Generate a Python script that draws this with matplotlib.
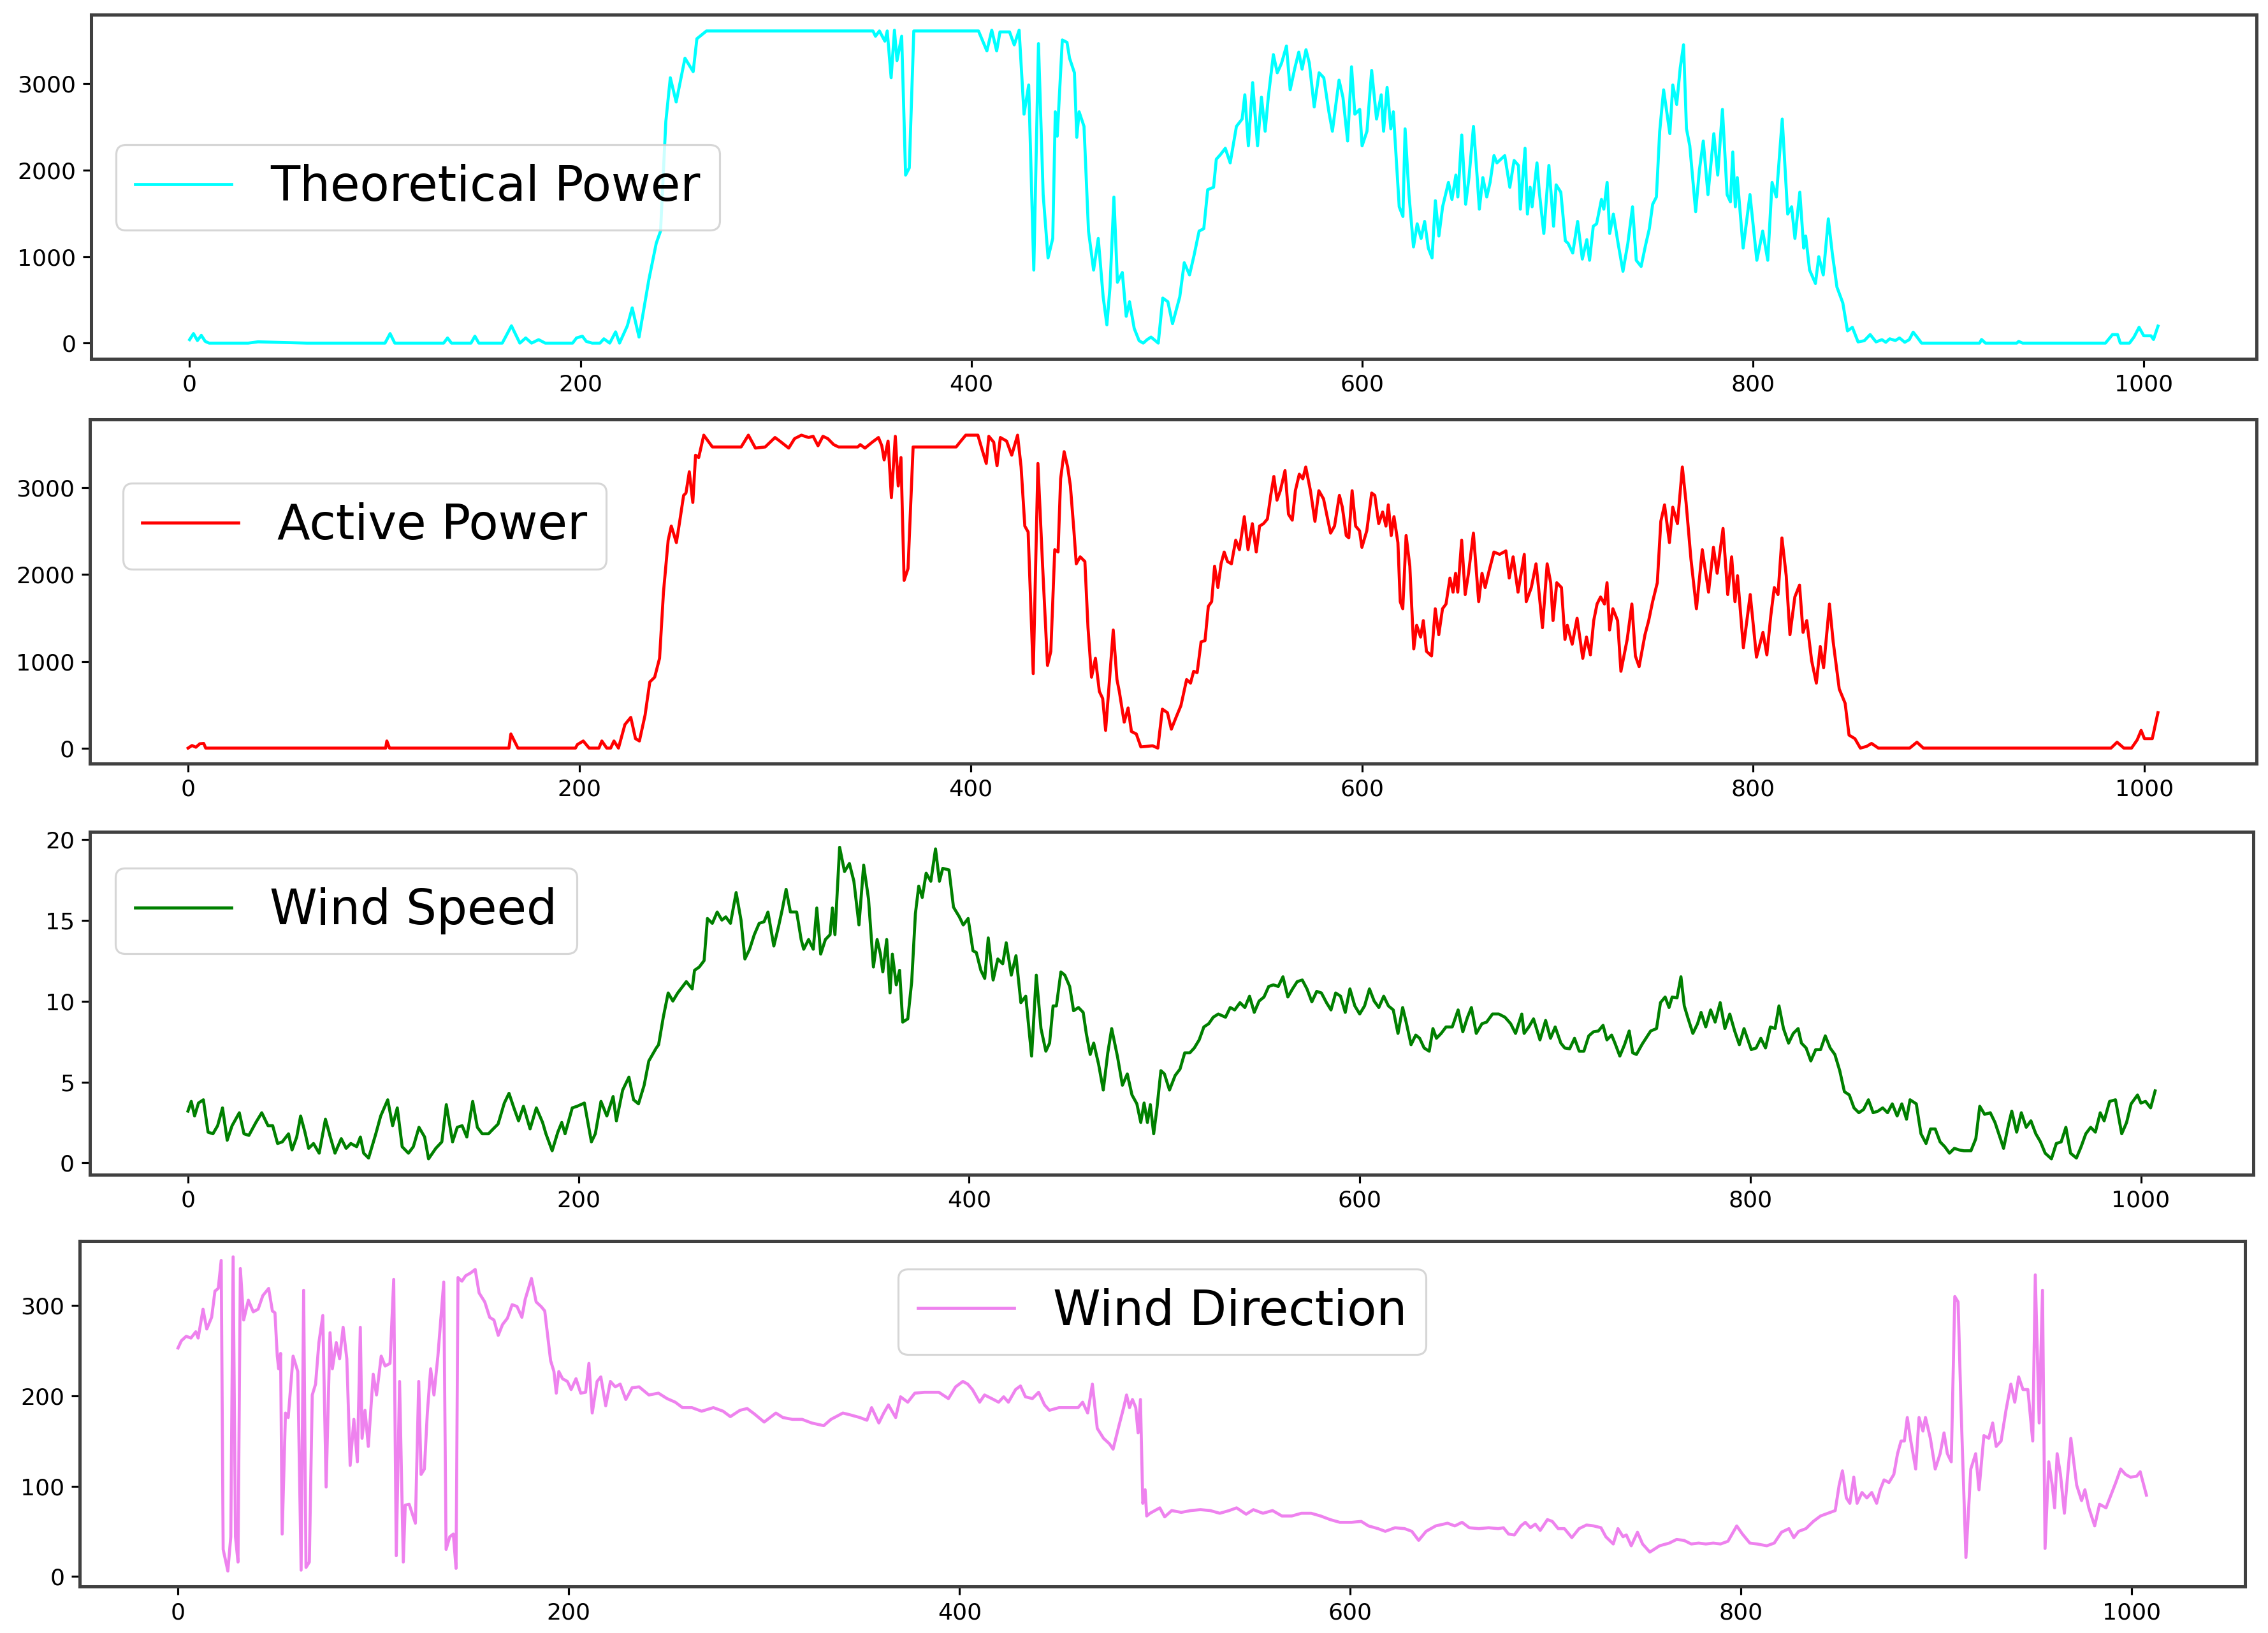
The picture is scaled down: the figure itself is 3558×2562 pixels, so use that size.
import matplotlib
matplotlib.use('Agg')
import matplotlib.pyplot as plt

# (time index, value) points
theoretical_power = [
    (0, 40), (2, 110), (4, 30), (6, 90), (8, 20), (10, 0), (30, 0), (35, 15), (60, 0), (100, 0),
    (102.6, 110), (105, 0), (130, 0), (132, 60), (134, 0), (144, 0), (146, 80), (148, 0), (160, 0),
    (164.7, 200), (169, 0), (172, 60), (175, 0), (178.6, 40), (182, 0), (196, 0), (198, 60), (201, 80),
    (203, 20), (206, 0), (210, 0), (212, 50), (215, 0), (218, 130), (220, 0), (224, 200), (226.5, 408),
    (230, 70), (235, 732), (238.8, 1155), (241, 1296), (243.7, 2563), (246, 3070), (249, 2789),
    (253.5, 3296), (257.7, 3140), (259.6, 3521), (264.5, 3611), (349.7, 3611), (351, 3550), (353, 3611),
    (355.8, 3493), (357, 3611), (359, 3070), (360.7, 3620), (362, 3268), (364.4, 3550), (366.4, 1944),
    (368.3, 2028), (370.6, 3611), (403.7, 3611), (408, 3380), (410.5, 3620), (413, 3380), (414.7, 3600),
    (419.6, 3600), (422, 3450), (424.5, 3620), (427, 2648), (429.4, 2986), (432, 845), (434.4, 3465),
    (436.8, 1718), (439.3, 986), (441.7, 1211), (443, 2676), (444, 2394), (446.6, 3507), (449, 3479),
    (450.3, 3296), (452.8, 3127), (454, 2380), (455.2, 2676), (457.7, 2507), (460, 1296), (462.6, 845),
    (465, 1211), (467.5, 535), (469.4, 211), (471, 648), (473, 1690), (474.8, 704), (477.3, 817),
    (479.3, 310), (481, 479), (483.4, 169), (485.9, 28), (488, 0), (490, 40), (492, 70), (495.7, 0),
    (498, 521), (500.6, 479), (503, 225), (506.7, 535), (509, 930), (511.7, 789), (514, 1014),
    (516.6, 1296), (519, 1324), (521, 1775), (524, 1803), (525.4, 2127), (527.6, 2183), (530, 2254),
    (532.5, 2085), (535.7, 2507), (538.6, 2592), (540, 2873), (541.8, 2282), (544, 3014), (546.5, 2282),
    (548.5, 2845), (550.4, 2451), (552, 2845), (554.6, 3338), (556.6, 3127), (558.8, 3239), (561.3, 3437),
    (563.2, 2930), (565.6, 3183), (567.6, 3366), (569.3, 3169), (571.3, 3394), (573, 3239), (575.5, 2732),
    (578, 3127), (580.4, 3070), (583, 2676), (584.8, 2451), (588.2, 3042), (590.2, 2845), (592.6, 2338),
    (594.6, 3197), (596.3, 2648), (598.8, 2704), (600, 2282), (602.5, 2451), (604.9, 3155), (607.4, 2592),
    (609.8, 2873), (611, 2451), (612.8, 2958), (614.7, 2479), (616, 2676), (617, 2310), (619, 1577),
    (620.9, 1465), (622, 2479), (624, 1718), (626.3, 1113), (628.2, 1380), (630.2, 1211), (632, 1408),
    (633.9, 1099), (635.8, 986), (637.5, 1648), (639.3, 1239), (641.2, 1577), (644.2, 1859), (646, 1662),
    (648, 1944), (649, 1690), (651, 2408), (653, 1606), (654.7, 1915), (657, 2507), (659, 1887), (660, 1549),
    (661.8, 1915), (663.8, 1690), (665.5, 1859), (667.5, 2169), (669, 2085), (673, 2169), (675.6, 1803),
    (677.8, 2113), (680, 2056), (681, 1549), (683.4, 2254), (684.6, 1493), (686, 1803), (687, 1577),
    (689.5, 2085), (690.7, 1746), (693, 1268), (695.6, 2056), (698, 1352), (699.3, 1831), (701.7, 1746),
    (704, 1183), (705.4, 1155), (707.8, 1042), (710.3, 1408), (712.7, 972), (715, 1197), (716.4, 958),
    (718.3, 1352), (720, 1380), (722.5, 1662), (723.7, 1549), (725.4, 1859), (726.7, 1268), (728.6, 1493),
    (731, 1155), (733.5, 831), (736, 1155), (738.4, 1577), (740.3, 958), (742.8, 887), (745, 1127),
    (747, 1324), (748.7, 1606), (750.6, 1690), (752.3, 2451), (754.3, 2930), (757.5, 2423), (759, 2986),
    (761, 2761), (762.8, 3183), (764.5, 3451), (766, 2479), (767.7, 2282), (770.7, 1521), (772.6, 2000),
    (774.6, 2338), (777, 1718), (780, 2423), (782, 1944), (784.4, 2704), (786.8, 1718), (788.5, 1634),
    (789.7, 2211), (791, 1577), (792, 1915), (795, 1099), (798.5, 1718), (802, 958), (805, 1296),
    (807.6, 958), (809.8, 1859), (812, 1690), (815, 2592), (817.8, 1493), (819.8, 1577), (821.5, 1211),
    (824, 1746), (826, 1099), (827, 1239), (829, 845), (832, 690), (833.7, 1000), (836, 789), (838.6, 1437),
    (840.6, 1042), (843, 648), (846, 465), (848.4, 141), (850.9, 183), (853.8, 14), (857, 28), (860, 99),
    (863, 14), (866, 40), (868, 10), (870, 50), (872.9, 30), (875, 60), (877.7, 10), (880, 40), (882, 127),
    (884, 70), (886.3, 0), (916, 0), (917, 42), (919, 0), (935, 0), (936, 20), (938, 0), (980.4, 0),
    (984, 99), (986.6, 99), (988, 0), (992.7, 0), (995, 70), (997.6, 183), (1000, 85), (1003.7, 85),
    (1005, 42), (1007.3, 197),
]

active_power = [
    (0, 0), (2, 30), (4, 10), (6, 50), (8, 54), (9, 0), (101, 0), (101.6, 82), (103, 0), (164, 0),
    (165, 163), (168.6, 0), (198, 0), (199, 41), (202, 82), (205, 0), (210, 0), (211.5, 82), (214, 0),
    (216, 0), (217.7, 82), (220, 0), (223.3, 272), (226.3, 354), (228.7, 109), (230.7, 82), (233.6, 381),
    (236, 762), (238.5, 817), (241, 1035), (243, 1797), (245.4, 2396), (247, 2559), (249.6, 2369),
    (251.3, 2614), (253.3, 2913), (254.5, 2940), (256.2, 3185), (258, 2831), (259.4, 3376), (261, 3349),
    (263.6, 3607), (268, 3471), (282.7, 3471), (286.4, 3607), (290, 3458), (295, 3471), (300, 3580),
    (302.4, 3540), (307, 3458), (310, 3567), (313.5, 3607), (317.2, 3580), (319.5, 3594), (322, 3485),
    (324.5, 3594), (327, 3567), (330, 3498), (332.5, 3471), (342.3, 3471), (343.6, 3498), (346, 3458),
    (349.7, 3526), (352.9, 3580), (354.6, 3485), (355.8, 3322), (357.8, 3539), (359.5, 2886), (361.5, 3594),
    (363, 3022), (364.4, 3349), (366, 1933), (368, 2069), (370.6, 3471), (392.6, 3471), (395, 3539),
    (397.5, 3607), (403.7, 3607), (406, 3430), (408, 3281), (409.3, 3594), (411.8, 3526), (413.5, 3254),
    (415.2, 3580), (418.4, 3539), (421, 3376), (424, 3607), (425.8, 3240), (427.7, 2559), (429.4, 2491),
    (432, 858), (434.4, 3281), (436.8, 2097), (439.3, 953), (441, 1116), (443, 2287), (444.7, 2260),
    (446, 3104), (447.8, 3417), (449.6, 3240), (451, 3022), (452.8, 2505), (454, 2124), (456, 2205),
    (458.4, 2151), (460, 1388), (461.8, 817), (463.8, 1035), (465.8, 653), (467.5, 572), (469, 204),
    (471, 790), (472.9, 1361), (474.8, 790), (476, 653), (478.5, 299), (480.5, 463), (482.2, 191),
    (484.7, 163), (487, 14), (490, 20), (493, 27), (495.7, 0), (498, 449), (500.6, 408), (502.6, 218),
    (505, 354), (507.5, 490), (510.4, 790), (512.4, 749), (514, 885), (515.8, 871), (517.8, 1225),
    (519.8, 1239), (521.5, 1634), (523.2, 1688), (524.7, 2097), (526.4, 1851), (528, 2124), (529.6, 2260),
    (531.3, 2151), (533.3, 2124), (535.5, 2396), (537.4, 2287), (539.9, 2668), (541.8, 2287), (544, 2587),
    (546, 2260), (547.7, 2559), (549.7, 2587), (551.7, 2641), (553.4, 2913), (555, 3131), (556.6, 2858),
    (558.3, 2967), (560.7, 3199), (562.5, 2695), (564.4, 2627), (566, 2967), (568, 3158), (569.8, 3104),
    (571.3, 3240), (573.7, 2967), (576, 2614), (578, 2967), (580.4, 2872), (582, 2695), (584, 2478),
    (586, 2559), (588.5, 2913), (590, 2777), (592, 2450), (593.3, 2423), (595, 2967), (596.8, 2559),
    (598.8, 2505), (600, 2314), (602.5, 2505), (605, 2940), (606.6, 2913), (608.6, 2587), (610.6, 2722),
    (612.3, 2559), (613.5, 2804), (615, 2450), (616.4, 2668), (618.4, 2369), (619.6, 1688), (620.9, 1606),
    (622.6, 2450), (624.5, 2097), (626.5, 1143), (628, 1416), (630, 1280), (631.4, 1470), (633, 1116),
    (635.6, 1062), (637.5, 1606), (639.3, 1307), (641.2, 1606), (643, 1661), (645, 1960), (646.6, 1797),
    (647.9, 2015), (649, 1797), (651, 2396), (652.8, 1770), (654.5, 2015), (657, 2478), (659.7, 1688),
    (661.4, 2015), (663, 1851), (665, 2042), (667.5, 2260), (670.4, 2233), (673.6, 2273), (675.3, 1960),
    (677.3, 2205), (679.8, 1797), (683, 2233), (684, 1688), (686.6, 1851), (689, 2124), (690.3, 1851),
    (692.3, 1388), (694.7, 2124), (696.5, 1906), (697.7, 1470), (699.6, 1906), (702, 1851), (703.8, 1252),
    (705, 1416), (707.5, 1198), (710, 1497), (712.9, 1035), (714.8, 1280), (716.8, 1075), (718.5, 1470),
    (720.2, 1661), (722, 1742), (724, 1661), (725.3, 1906), (726.6, 1361), (728.3, 1606), (730.7, 1470),
    (732.4, 885), (735.6, 1252), (738, 1661), (739.8, 1062), (741.7, 939), (744.7, 1307), (746.6, 1470),
    (748.6, 1688), (751, 1906), (752.8, 2614), (754.7, 2804), (757.2, 2369), (758.9, 2777), (761.3, 2587),
    (763.8, 3240), (765.7, 2831), (768.2, 2178), (771, 1606), (774, 2287), (777.2, 1797), (779.7, 2314),
    (781.6, 2015), (784.6, 2532), (787, 1770), (789, 2205), (790.7, 1688), (792, 1987), (795, 1157),
    (798.5, 1770), (801.7, 1048), (805, 1334), (807, 1075), (809, 1525), (810.8, 1851), (812.7, 1770),
    (814.7, 2423), (816.9, 1987), (818.8, 1307), (821.3, 1742), (823.7, 1879), (825.5, 1334), (827.4, 1470),
    (829.9, 1007), (832.3, 749), (834.3, 1171), (836, 926), (839, 1661), (840.9, 1225), (844, 681),
    (847, 517), (849, 150), (852, 109), (854.8, 0), (858, 20), (860.5, 54), (864, 0), (880, 0),
    (883.7, 68), (887, 0), (982.9, 0), (986, 68), (989.5, 0), (993.4, 0), (996.3, 95), (998.3, 204),
    (1000, 109), (1004, 109), (1006.9, 408),
]

wind_speed = [
    (0, 3.2), (1.7, 3.8), (3.4, 2.9), (5.4, 3.7), (7.9, 3.9), (10.3, 1.9), (12.8, 1.8), (15.2, 2.3),
    (17.7, 3.4), (20.1, 1.4), (22.6, 2.3), (26.3, 3.1), (28.7, 1.8), (31.2, 1.7), (34.8, 2.5), (37.8, 3.1),
    (41, 2.3), (43.4, 2.3), (45.9, 1.2), (48.3, 1.3), (51.5, 1.8), (53.3, 0.8), (55.7, 1.6), (57.7, 2.9),
    (59.9, 1.9), (61.8, 0.9), (64.3, 1.2), (67.2, 0.6), (70.4, 2.7), (72.9, 1.6), (75.3, 0.6), (78.5, 1.5),
    (81, 0.9), (83.4, 1.2), (86.4, 1.0), (88.3, 1.6), (90, 0.6), (92.5, 0.3), (96.2, 1.8), (98.7, 2.9),
    (102.3, 3.9), (104.8, 2.3), (107.2, 3.4), (109.7, 1.0), (112.9, 0.6), (115.4, 1.0), (118.3, 2.2),
    (121.2, 1.6), (123.2, 0.25), (126.9, 0.9), (130, 1.3), (132.3, 3.6), (135.5, 1.3), (137.9, 2.2),
    (140.4, 2.3), (142.8, 1.6), (145.8, 3.8), (148.2, 2.2), (150.7, 1.8), (153.9, 1.8), (156.3, 2.1),
    (158.8, 2.4), (162, 3.7), (164.4, 4.3), (166.9, 3.4), (169.3, 2.6), (171.8, 3.5), (175.2, 2.1),
    (178.4, 3.4), (181.6, 2.5), (183.3, 1.8), (186.5, 0.75), (189.4, 1.9), (191.4, 2.5), (193.1, 1.8),
    (196.8, 3.4), (199.3, 3.5), (203, 3.7), (206.6, 1.3), (208.6, 1.8), (211.5, 3.8), (214.5, 2.9),
    (217.7, 4.1), (219.4, 2.6), (222.6, 4.5), (225.8, 5.3), (228.2, 3.9), (230.7, 3.65), (233.6, 4.8),
    (236, 6.3), (239.8, 7.1), (241, 7.3), (243.4, 9.0), (245.9, 10.5), (248.3, 10.0), (250.8, 10.5),
    (253.3, 10.9), (255.2, 11.2), (258.2, 10.75), (259.4, 11.9), (261.8, 12.1), (264.3, 12.5), (266, 15.1),
    (268.5, 14.8), (271, 15.5), (273.4, 15.0), (275.4, 15.2), (277.8, 14.8), (280.7, 16.7), (283.2, 15.0),
    (285.2, 12.6), (287.6, 13.2), (290, 14.1), (292.5, 14.8), (295, 14.9), (297, 15.5), (300, 13.4),
    (302.4, 14.6), (304.4, 15.7), (306.3, 16.9), (308.5, 15.5), (311.7, 15.5), (314, 13.8), (315.3, 13.2),
    (317.8, 13.8), (320.2, 13.2), (322, 15.75), (324, 12.9), (326.4, 13.8), (328.8, 14.1), (330, 15.75),
    (331.3, 14.1), (333.7, 19.5), (336.2, 18.0), (338.7, 18.5), (341, 17.4), (343.6, 14.7), (346, 18.4),
    (348.5, 16.3), (351, 12.1), (352.9, 13.8), (354.6, 12.9), (355.8, 11.8), (357.8, 13.8), (359.5, 10.5),
    (360.7, 12.9), (362.7, 11.0), (364.4, 11.9), (366, 8.7), (368.6, 8.9), (370.6, 11.2), (372.5, 15.4),
    (374.2, 17.1), (376, 16.4), (378, 17.9), (380.4, 17.4), (382.8, 19.4), (384.8, 17.4), (386.5, 18.2),
    (389.7, 18.1), (392, 15.8), (395, 15.2), (397, 14.7), (399.5, 15.1), (402, 13.1), (403.7, 13.0),
    (406, 11.9), (408, 11.4), (409.8, 13.9), (412.3, 11.3), (414.7, 12.6), (417.2, 12.3), (419, 13.6),
    (421.6, 11.6), (424, 12.8), (426.5, 9.9), (429, 10.3), (432, 6.6), (434.4, 11.6), (436.8, 8.3),
    (439.3, 6.9), (441.2, 7.4), (443, 9.7), (444.7, 9.7), (447, 11.8), (449, 11.6), (451.5, 10.9),
    (453.5, 9.4), (456, 9.6), (458.4, 9.3), (460, 8.0), (462, 6.7), (463.8, 7.4), (466.3, 6.1), (468.7, 4.5),
    (471, 6.8), (473, 8.3), (476, 6.55), (478.5, 4.8), (481, 5.5), (483.4, 4.2), (485.9, 3.65), (487.9, 2.5),
    (489.6, 3.7), (491.3, 2.5), (492.8, 3.6), (494.5, 1.8), (496.2, 3.4), (498.2, 5.7), (500, 5.5),
    (502.6, 4.5), (505.5, 5.4), (508, 5.8), (510.4, 6.8), (513, 6.8), (515.3, 7.1), (517.8, 7.6),
    (520.2, 8.4), (522.7, 8.6), (525, 9.0), (527.6, 9.2), (531.3, 9.0), (533.7, 9.6), (536, 9.45),
    (538.7, 9.9), (541.2, 9.6), (543.6, 10.3), (546, 9.3), (548.5, 10.0), (551, 10.25), (553.4, 10.9),
    (555.8, 11.0), (558.3, 10.9), (560.7, 11.5), (563.2, 10.25), (565.6, 10.75), (568, 11.2), (570.6, 11.3),
    (573, 10.75), (575.5, 9.95), (578, 10.6), (580.4, 10.5), (583, 9.9), (585.3, 9.45), (587.7, 10.5),
    (590.2, 10.3), (592.6, 9.3), (595, 10.75), (597.5, 9.7), (600, 9.2), (602.5, 9.7), (605, 10.75),
    (607.4, 10.0), (609.8, 9.6), (612.3, 10.3), (614.7, 9.7), (617.2, 9.45), (619.6, 8.0), (622, 9.6),
    (623.8, 8.7), (626.3, 7.3), (628.7, 7.9), (630.7, 7.7), (633, 7.1), (635.6, 6.9), (637.5, 8.3),
    (639.3, 7.7), (641.7, 8.0), (644.2, 8.4), (647.4, 8.4), (650.4, 9.45), (652.8, 8.1), (655.2, 9.0),
    (657.2, 9.6), (659.7, 8.0), (662.6, 8.6), (665, 8.7), (668, 9.2), (671.2, 9.2), (674.4, 9.0),
    (677.3, 8.6), (679.8, 8.0), (683, 9.2), (684.2, 8.0), (686.6, 8.4), (689, 8.9), (692.3, 7.6),
    (695.2, 8.8), (697.7, 7.7), (700.1, 8.4), (703, 7.4), (705, 7.1), (707.5, 7.05), (710, 7.7),
    (712.4, 6.9), (714.8, 6.9), (717.3, 7.85), (719.7, 8.1), (722.2, 8.15), (724.6, 8.5), (726.6, 7.6),
    (729, 7.9), (730.7, 7.4), (733.2, 6.6), (735.6, 7.3), (738, 8.15), (739.8, 6.8), (741.7, 6.7),
    (744.7, 7.35), (746.6, 7.7), (749, 8.15), (752, 8.3), (754, 9.9), (756.4, 10.25), (758.4, 9.6),
    (760, 10.25), (762.5, 10.2), (764.5, 11.5), (766.2, 9.7), (768.2, 8.9), (770.6, 8.0), (773, 8.6),
    (774.8, 9.3), (777.2, 8.4), (779.7, 9.45), (782, 8.7), (784.6, 9.9), (787, 8.3), (789.5, 9.2),
    (792, 8.15), (794.4, 7.3), (796.8, 8.3), (800.5, 7.0), (803, 7.1), (805.4, 7.7), (807.8, 7.1),
    (810.3, 8.4), (812.7, 8.3), (814.7, 9.7), (817, 8.3), (819.6, 7.4), (822, 8.0), (824.5, 8.3),
    (826.2, 7.4), (828.6, 7.1), (831, 6.3), (833.5, 7.0), (836, 7.0), (838.4, 7.85), (840.9, 7.1),
    (843.3, 6.7), (845.8, 5.7), (848.2, 4.4), (850.7, 4.2), (853.1, 3.4), (855.6, 3.1), (858, 3.3),
    (860.5, 3.9), (862.9, 3.1), (865.4, 3.2), (867.8, 3.4), (870.3, 3.1), (872.7, 3.65), (875.2, 2.9),
    (877.6, 3.65), (880, 2.7), (881.8, 3.9), (885, 3.65), (887.4, 1.8), (890, 1.2), (892.3, 2.1),
    (894.7, 2.1), (897.2, 1.3), (899.6, 1.0), (902, 0.6), (904.5, 0.9), (907, 0.8), (909.4, 0.75),
    (913, 0.75), (915.5, 1.5), (917.5, 3.5), (920, 3.0), (922.9, 3.1), (925.3, 2.5), (927.8, 1.6),
    (929.7, 0.9), (932.2, 2.35), (933.9, 3.2), (936.4, 1.9), (938.8, 3.1), (941.3, 2.2), (943.7, 2.6),
    (946.2, 1.8), (948.6, 1.3), (951, 0.6), (954.2, 0.25), (956.7, 1.2), (959.2, 1.3), (961.6, 2.2),
    (964, 0.6), (967, 0.3), (969.4, 1.0), (971.8, 1.8), (974.3, 2.2), (976.7, 1.9), (979.2, 3.1),
    (981.2, 2.6), (984, 3.8), (987, 3.9), (990.2, 1.8), (992.7, 2.5), (995, 3.65), (998.3, 4.2),
    (1000, 3.7), (1002.4, 3.8), (1005, 3.4), (1007.3, 4.45),
]

wind_direction = [
    (0, 253), (1.7, 261), (4.2, 266), (6.6, 264), (9.1, 271), (10.3, 264), (12.8, 296), (14.7, 274),
    (17.2, 287), (18.9, 316), (20.6, 319), (22.1, 350), (23.1, 30), (25.5, 6), (27, 44), (28.2, 354),
    (29.4, 44), (30.7, 16), (31.9, 341), (33.6, 284), (36, 306), (38.5, 293), (41, 296), (43.4, 311),
    (46.4, 319), (48.3, 294), (49.6, 292), (50.8, 244), (51.5, 230), (52.5, 247), (53.3, 47), (55, 181),
    (56.4, 176), (58.9, 244), (61.3, 227), (63, 7), (64.3, 317), (65.5, 10), (67.2, 16), (68.7, 201),
    (70.4, 213), (72.1, 259), (74.1, 289), (75.8, 99), (77.8, 270), (79, 230), (81, 259), (82.7, 241),
    (84.5, 276), (86.4, 241), (88.1, 123), (90, 174), (91.8, 127), (93.3, 276), (94.2, 153), (95.7, 184),
    (97.4, 144), (99.9, 224), (101.6, 201), (104, 244), (106, 233), (108.5, 236), (110.4, 329), (111.7, 23),
    (113.4, 216), (115.3, 16), (116.3, 79), (118.3, 80), (121.5, 59), (123.2, 216), (124.4, 113),
    (126.1, 119), (127.6, 181), (129.3, 230), (131, 201), (133, 244), (136, 326), (137.2, 30), (139.1, 44),
    (140.9, 47), (142.3, 9), (143.3, 331), (145.3, 327), (147.2, 333), (149.7, 336), (152.1, 340),
    (154.1, 314), (157, 304), (159.5, 287), (161.7, 284), (163.9, 267), (166.1, 279), (168.6, 286),
    (171, 301), (173.5, 299), (176, 287), (177.7, 307), (180.9, 330), (183.3, 304), (185.8, 299),
    (187.7, 294), (190.7, 239), (192.4, 227), (193.6, 203), (194.9, 227), (196.8, 219), (199.3, 216),
    (201.2, 207), (203.7, 219), (206.1, 203), (208.6, 204), (210.3, 236), (212, 181), (214.5, 216),
    (216.4, 221), (218.9, 189), (221.3, 216), (223.8, 210), (226.3, 213), (229.2, 196), (232.4, 209),
    (236, 210), (241, 201), (245.9, 203), (250.3, 197), (254.5, 193), (258.2, 187), (263, 187), (268, 183),
    (274, 187), (279, 183), (282.7, 177), (287.6, 184), (291.3, 186), (295, 180), (300, 171), (306, 181),
    (309.6, 176), (314.5, 174), (319.4, 174), (324.3, 170), (330.5, 167), (334.2, 174), (340.3, 181),
    (344, 179), (349, 176), (352.6, 173), (355, 187), (358.7, 170), (361.2, 181), (363.6, 190),
    (367.3, 176), (369.8, 199), (373.5, 193), (377.1, 203), (382, 204), (385.7, 204), (389.4, 204),
    (394.3, 197), (398, 210), (401.7, 216), (404.2, 213), (406.6, 207), (410.3, 193), (412.8, 201),
    (416.5, 197), (420, 193), (422.6, 199), (425, 193), (428.7, 207), (431.2, 211), (433.7, 199),
    (437.3, 197), (440.5, 204), (443.5, 190), (446, 184), (450.9, 187), (455.8, 187), (460.7, 187),
    (463, 193), (465.6, 181), (468, 213), (470.5, 164), (473.7, 153), (476.7, 147), (478.6, 141),
    (481.6, 167), (484, 187), (485.5, 201), (487, 187), (488.5, 196), (490.2, 187), (491.4, 159),
    (492.6, 196), (493.8, 81), (495, 96), (495.8, 67), (497.5, 70), (500, 73), (502.5, 76), (505, 66),
    (508.6, 73), (513.5, 71), (518.4, 73), (523.3, 74), (528.3, 73), (533.2, 70), (538, 73), (541.8, 76),
    (546.7, 69), (550.4, 74), (555.3, 70), (560.2, 73), (565, 67), (570, 67), (575, 70), (580, 70),
    (584.8, 67), (589.7, 63), (594.6, 60), (600.7, 60), (605.6, 61), (609.3, 56), (614.2, 53), (617.9, 50),
    (622.9, 54), (627.8, 53), (631.5, 50), (635, 40), (638.8, 50), (643.7, 56), (649.8, 59), (653.5, 56),
    (657.2, 60), (660.9, 54), (665.8, 53), (670.8, 54), (675.7, 53), (678.4, 54), (681, 47), (684, 46),
    (687.3, 56), (689.6, 60), (692.2, 54), (694.7, 58), (697.2, 51), (700.9, 63), (703.4, 61), (706.4, 53),
    (709.6, 53), (713.4, 43), (717.1, 53), (720.9, 57), (724.6, 56), (728.3, 54), (730.8, 44), (734.6, 36),
    (737, 53), (739.6, 44), (741.3, 46), (743.8, 34), (747, 49), (749.6, 36), (753.3, 27), (758.3, 34),
    (763.3, 37), (767, 41), (770.8, 40), (774.5, 36), (778.3, 37), (782, 36), (785.8, 37), (789.5, 36),
    (793.3, 39), (797.8, 56), (800.7, 47), (804.5, 37), (808.2, 36), (813.2, 34), (817, 37), (820.7, 49),
    (824.5, 53), (827, 43), (829.5, 50), (833.2, 53), (837, 61), (840.7, 67), (844.4, 70), (848.2, 73),
    (850.2, 101), (851.9, 117), (853.9, 87), (855.7, 81), (857.7, 110), (859.4, 81), (861.9, 93),
    (864.4, 87), (866.9, 93), (869.4, 81), (871.2, 96), (873.2, 107), (875.7, 104), (878.2, 113),
    (880.1, 136), (881.9, 150), (883.6, 150), (885.1, 176), (886.9, 150), (889.4, 119), (891.1, 176),
    (893.1, 161), (894.4, 176), (896.9, 153), (899.4, 119), (901.9, 136), (903.9, 159), (905.6, 136),
    (907.6, 127), (909.4, 310), (911.1, 304), (912.6, 187), (915.1, 21), (917.6, 119), (920.1, 136),
    (921.8, 96), (924.3, 156), (926.8, 153), (928.8, 170), (930.6, 144), (933.1, 150), (935.6, 184),
    (938.1, 213), (940.1, 193), (942.1, 221), (944.3, 207), (946.8, 207), (949.3, 150), (950.6, 334),
    (952.6, 170), (954.3, 317), (955.6, 31), (957.5, 127), (959.3, 101), (960.5, 76), (961.8, 136),
    (963.5, 113), (965.5, 70), (968.8, 153), (971.8, 101), (974.3, 84), (976, 96), (978, 76), (981, 56),
    (983.5, 80), (986.8, 76), (989.3, 90), (991.8, 104), (994.3, 119), (996.8, 113), (999.3, 110),
    (1002.5, 111), (1004.3, 116), (1007.5, 90),
]

power_ticks = [0, 1000, 2000, 3000]
speed_ticks = [0, 5, 10, 15, 20]
direction_ticks = [0, 100, 200, 300]
x_ticks = [0, 200, 400, 600, 800, 1000]


def main():
    fig = plt.figure(figsize=(3558 / 227, 2562 / 227), dpi=227)

    panels = [
        # series, label, colour, yticks, axes rect, legend loc, legend anchor
        (theoretical_power, 'Theoretical Power', 'cyan', power_ticks,
         [0.0402, 0.7803, 0.9547, 0.2108], 'upper left', (0.0114, 0.622)),
        (active_power, 'Active Power', 'red', power_ticks,
         [0.0395, 0.5323, 0.9554, 0.2108], 'upper left', (0.0154, 0.815)),
        (wind_speed, 'Wind Speed', 'green', speed_ticks,
         [0.0395, 0.2808, 0.9541, 0.2099], 'upper left', (0.012, 0.894)),
        (wind_direction, 'Wind Direction', 'violet', direction_ticks,
         [0.0351, 0.0283, 0.9547, 0.2117], 'upper center', (0.5, 0.92)),
    ]

    for series, label, colour, yticks, rect, loc, anchor in panels:
        ax = fig.add_axes(rect)
        xs = [p[0] for p in series]
        ys = [p[1] for p in series]
        ax.plot(xs, ys, color=colour, linewidth=1.5, label=label)
        ax.set_xticks(x_ticks)
        ax.set_yticks(yticks)
        ax.tick_params(labelsize=11.5, length=4, width=1.0)
        for spine in ax.spines.values():
            spine.set_color('0.25')
            spine.set_linewidth(1.6)
        ax.legend(loc=loc, bbox_to_anchor=anchor, borderaxespad=0, fontsize=24,
                  edgecolor='0.8', framealpha=0.8)

    fig.savefig('out.png', dpi=227)


if __name__ == '__main__':
    main()
